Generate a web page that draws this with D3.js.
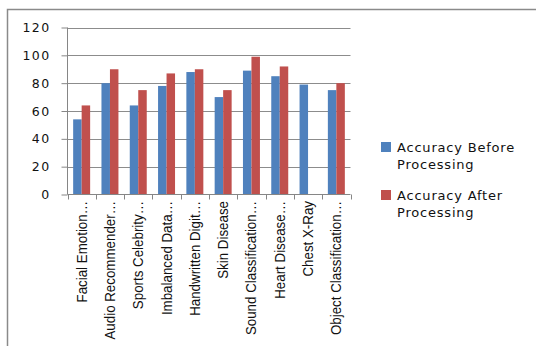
<!DOCTYPE html>
<html>
<head>
<meta charset="utf-8">
<script src="https://cdn.jsdelivr.net/npm/d3@7"></script>
<style>
  html, body { margin: 0; padding: 0; background: #fff; }
  svg { display: block; }
</style>
</head>
<body>
<svg id="chart" width="536" height="346"></svg>
<script>
// Category labels (as shown on the axis, truncated)
const categories = [
  "Facial Emotion…", "Audio Recommender…", "Sports Celebrity…", "Imbalanced Data…",
  "Handwritten Digit…", "Skin Disease", "Sound Classification…", "Heart Disease…",
  "Chest X-Ray", "Object Classification…"
];
const seriesNames = ["Accuracy Before Processing", "Accuracy After Processing"];
const before = [54, 80, 64, 78, 88, 70, 89, 85, 79, 75];
const after  = [64, 90, 75, 87, 90, 75, 99, 92, null, 80];
const yTicks = [0, 20, 40, 60, 80, 100, 120];
const colors = ["#4F81BD", "#C0504D"];

const svg = d3.select("#chart");

// outer chart frame (only top and left edges fall inside the view)
svg.append("rect")
  .attr("x", 7.5).attr("y", 9.5).attr("width", 560).attr("height", 360)
  .attr("fill", "none").attr("stroke", "#8a8a8a").attr("stroke-width", 1.5);

const x0 = d3.scaleBand().domain(categories).range([67.5, 350.5])
  .paddingInner(0.4).paddingOuter(0.2);
const x1 = d3.scaleBand().domain([0, 1]).range([0, x0.bandwidth()]);
const y = d3.scaleLinear().domain([0, 120]).range([194.5, 27.5]);

// gridlines
svg.append("g").selectAll("line").data(yTicks.slice(1)).join("line")
  .attr("x1", 67.5).attr("x2", 350.5)
  .attr("y1", d => Math.round(y(d)) + 0.5).attr("y2", d => Math.round(y(d)) + 0.5)
  .attr("stroke", "#8c8c8c").attr("stroke-width", 1);

// bars
const groups = svg.append("g").selectAll("g").data(categories).join("g")
  .attr("transform", d => `translate(${x0(d)},0)`);
groups.selectAll("rect")
  .data((d, i) => [before[i], after[i]].map((v, s) => ({ v, s })).filter(o => o.v != null))
  .join("rect")
  .attr("x", o => x1(o.s))
  .attr("width", x1.bandwidth())
  .attr("y", o => y(o.v))
  .attr("height", o => y(0) - y(o.v))
  .attr("fill", o => colors[o.s]);

// y axis
const yAxis = svg.append("g").attr("transform", "translate(67.5,0)")
  .call(d3.axisLeft(y).tickValues(yTicks).tickSize(6).tickPadding(11));
yAxis.select(".domain").attr("stroke", "#868686").attr("d", `M0,${y(120)}V${y(0)}`);
yAxis.selectAll(".tick line").attr("stroke", "#868686");
yAxis.selectAll(".tick text")
  .attr("font-family", "DejaVu Sans, Verdana, sans-serif")
  .attr("font-size", 12.5).attr("fill", "#111").attr("letter-spacing", 1.4);

// x axis: ticks sit on category boundaries
const step = x0.step();
const bounds = d3.range(categories.length + 1).map(i => 67.5 + i * step);
const xAxis = svg.append("g");
xAxis.append("line").attr("x1", 67.5).attr("x2", 350.5)
  .attr("y1", y(0)).attr("y2", y(0)).attr("stroke", "#868686");
xAxis.selectAll("line.tk").data(bounds).join("line").attr("class", "tk")
  .attr("x1", d => Math.round(d) + 0.5).attr("x2", d => Math.round(d) + 0.5)
  .attr("y1", y(0)).attr("y2", y(0) + 5).attr("stroke", "#868686");

// rotated category labels
svg.append("g").selectAll("text").data(categories).join("text")
  .attr("transform", d => `translate(${x0(d) + x0.bandwidth() / 2 + 5},201) rotate(-90) scale(0.92,1)`)
  .attr("text-anchor", "end")
  .attr("font-family", "Liberation Sans Narrow, Arial Narrow, sans-serif")
  .attr("font-size", 14.5).attr("fill", "#111")
  .text(d => d);

// legend
const legend = svg.append("g");
const legendRows = [
  { s: 0, lines: ["Accuracy Before", "Processing"], top: 142 },
  { s: 1, lines: ["Accuracy After", "Processing"], top: 190 }
];
legendRows.forEach(r => {
  legend.append("rect").attr("x", 381).attr("y", r.top).attr("width", 10).attr("height", 10)
    .attr("fill", colors[r.s]);
  r.lines.forEach((t, k) => {
    legend.append("text").attr("x", 397).attr("y", r.top + 10 + k * 17)
      .attr("font-family", "DejaVu Sans, Verdana, sans-serif")
      .attr("font-size", 13).attr("fill", "#111").attr("letter-spacing", 0.8)
      .text(t);
  });
});
</script>
</body>
</html>
